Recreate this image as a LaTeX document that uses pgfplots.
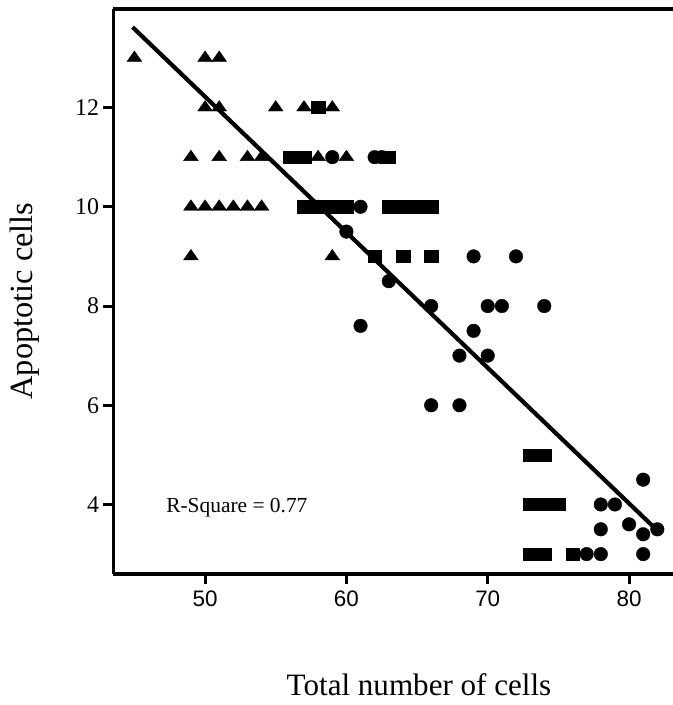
\documentclass[border=0pt]{standalone}
\usepackage{fontspec}
\setmainfont{Liberation Serif}
\newfontfamily\tickfont{Liberation Sans}
\usepackage{pgfplots}
\pgfplotsset{compat=1.18}

\begin{document}
\begin{tikzpicture}
\useasboundingbox (-113.5bp,-131bp) rectangle (559.5bp,574bp);
\begin{axis}[
  scale only axis,
  width=559.5bp,height=565bp,
  xmin=43.52,xmax=83.11,ymin=2.599,ymax=13.986,
  axis x line*=bottom,axis y line*=left,
  axis line style={line width=3.5bp,black},
  xtick={50,60,70,80},ytick={4,6,8,10,12},
  tick align=outside,major tick length=10bp,
  tick style={line width=3bp,black},
  /pgf/number format/assume math mode=true,
  xticklabel style={font=\tickfont\fontsize{22.5}{22.5}\selectfont,anchor=north,yshift=-3bp},
  yticklabel style={font=\fontsize{24}{24}\selectfont,anchor=east,xshift=-1bp},
  clip=false
]
% triangles
\addplot[only marks,mark=triangle*,mark size=8.5bp,black,mark options={yscale=0.82}] coordinates {
 (45,13) (50,13) (51,13)
 (50,12) (51,12) (55,12) (57,12) (59,12)
 (49,11) (51,11) (53,11) (54,11) (58,11) (60,11)
 (49,10) (50,10) (51,10) (52,10) (53,10) (54,10) (58,10)
 (49,9) (59,9)};
% squares
\addplot[only marks,mark=square*,mark size=6.8bp,black,mark options={yscale=0.9}] coordinates {
 (58,12)
 (56,11) (57,11) (63,11)
 (57,10) (58,10) (59,10) (60,10) (63,10) (64,10) (65,10) (66,10)
 (62,9) (64,9) (66,9)
 (73,5) (74,5)
 (73,4) (74,4) (75,4)
 (73,3) (74,3) (76,3)};
% circles
\addplot[only marks,mark=*,mark size=6.8bp,black] coordinates {
 (59,11) (62,11) (62.5,11)
 (61,10) (60,9.5)
 (69,9) (72,9) (63,8.5)
 (66,8) (70,8) (71,8) (74,8)
 (61,7.6) (69,7.5)
 (68,7) (70,7)
 (66,6) (68,6)
 (81,4.5) (78,4) (79,4)
 (80,3.6) (78,3.5) (82,3.5) (81,3.4)
 (77,3) (78,3) (81,3)};
% fit line
\addplot[black,line width=4.2bp] coordinates {(44.87,13.62) (81.8,3.53)};
\draw[line width=3.5bp] (rel axis cs:0,1) -- (rel axis cs:1,1);
\node[anchor=base west,font=\fontsize{21.5}{21.5}\selectfont,inner sep=0pt] at (axis cs:47.24,3.83) {R-Square = 0.77};
\end{axis}
\node[anchor=base,font=\fontsize{31.2}{31.2}\selectfont,inner sep=0pt] at (305.5bp,-121bp) {Total number of cells};
\node[anchor=base,rotate=90,font=\fontsize{32.5}{32.5}\selectfont,inner sep=0pt] at (-80.5bp,273bp) {Apoptotic cells};
\end{tikzpicture}
\end{document}
